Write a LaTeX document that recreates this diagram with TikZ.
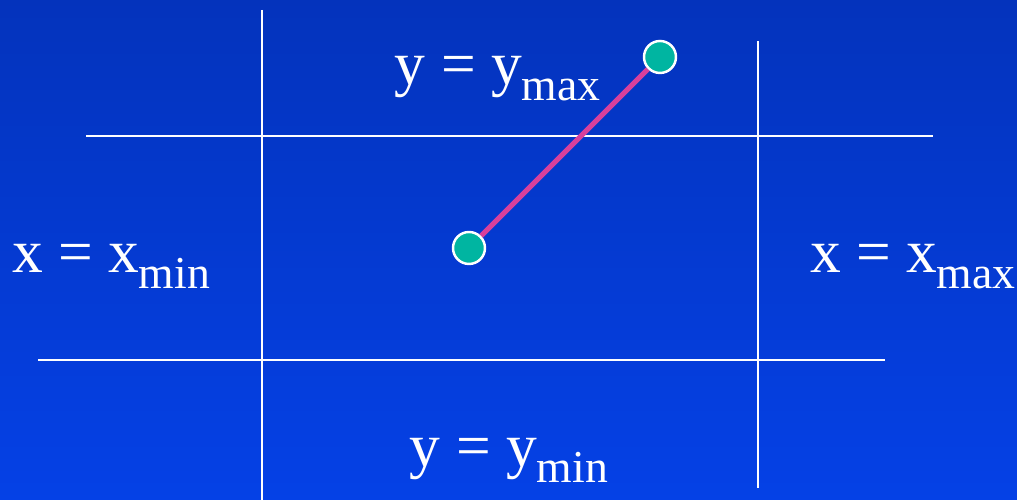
\documentclass[tikz,border=0pt]{standalone}
\usepackage{fontspec}
\setmainfont{Liberation Serif}
\usepackage{xcolor}
\usetikzlibrary{positioning,calc}
\definecolor{SlideTop}{HTML}{0433BC}
\definecolor{SlideBottom}{HTML}{0541E6}
\definecolor{ClipTeal}{HTML}{00B5A1}
\definecolor{ClipPink}{HTML}{D8409C}
\newcommand{\lowsub}[1]{\raisebox{-0.25em}{\fontsize{13}{15}\selectfont #1}}

\begin{document}
\begin{tikzpicture}[x=0.1mm, y=-0.1mm,
    edge/.style={draw=white, line width=0.7pt},
    endpt/.style={circle, draw=white, line width=0.7pt, fill=ClipTeal,
      minimum size=3.2mm, inner sep=0pt},
    seg/.style={draw=ClipPink, line width=1.5pt},
    lbl/.style={text=white, font=\fontsize{17.5}{21}\selectfont,
      anchor=base west, inner sep=0pt, outer sep=0pt}
  ]
    \useasboundingbox (0,0) rectangle (1017,500);
    \shade[top color=SlideTop, bottom color=SlideBottom] (0,0) rectangle (1017,500);
    % clip window borders
    \draw[edge] (262,10) -- (262,500);
    \draw[edge] (758,41) -- (758,488);
    \draw[edge] (86,136) -- (933,136);
    \draw[edge] (38,360) -- (885,360);
    % labels
    \node[lbl] (ymax) at (395,85) {y = y\lowsub{max}};
    \node[lbl] (xmin) at (12,273) {x = x\lowsub{min}};
    \node[lbl] (xmax) at (810,273) {x = x\lowsub{max}};
    \node[lbl] (ymin) at (410,467) {y = y\lowsub{min}};
    % line segment
    \node[endpt] (p1) at (469,248) {};
    \node[endpt] (p2) at (660,57) {};
    \draw[seg] (p1) -- (p2);
\end{tikzpicture}
\end{document}
